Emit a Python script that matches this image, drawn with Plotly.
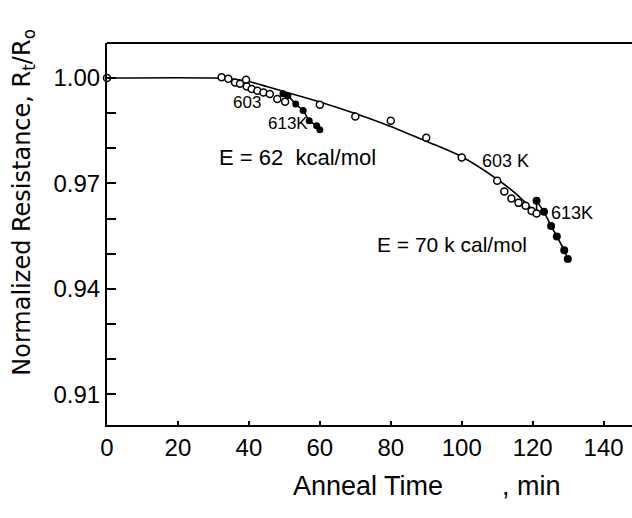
import plotly.graph_objects as go

# ---- data ----
curve_x = [0, 30, 35, 40, 45, 50, 55, 60, 70, 80, 90, 100, 110, 115, 121.1]
curve_y = [1.000, 1.000, 0.9997, 0.9990, 0.9976, 0.9961, 0.9947, 0.9932,
           0.9899, 0.9862, 0.9820, 0.9776, 0.9712, 0.9673, 0.9614]

open_x = [0, 32.3, 34.2, 36.1, 37.5, 39.2, 39.4, 40.8, 42.4, 44.1, 45.9, 48.0, 50.2,
          60, 70, 80, 90, 100, 110, 112, 114, 116, 118, 119.7, 121.1]
open_y = [1.000, 1.0002, 0.9998, 0.99875, 0.99838, 0.99952, 0.99761, 0.99687, 0.99638,
          0.9959, 0.99544, 0.99402, 0.99325, 0.99239, 0.98906, 0.98783, 0.98300,
          0.97738, 0.97074, 0.96769, 0.96570, 0.96447, 0.96362, 0.96219, 0.96142]

fill1_x = [49.6, 51.0, 53.2, 55.3, 57.0, 59.1, 60.0]
fill1_y = [0.99553, 0.99496, 0.99259, 0.99077, 0.98783, 0.98641, 0.98527]

fill2_x = [121.1, 123.2, 125.2, 126.8, 128.9, 129.9]
fill2_y = [0.96504, 0.96191, 0.95792, 0.95487, 0.95100, 0.94852]

x_ticks = [0, 20, 40, 60, 80, 100, 120, 140]
y_ticks = [0.91, 0.94, 0.97, 1.00]
y_ticktext = ["0.91", "0.94", "0.97", "1.00"]
y_minor = [0.91, 0.92, 0.93, 0.94, 0.95, 0.96, 0.97, 0.98, 0.99, 1.00]

labels = [
    ("603", 39.5, 0.99296, 17),
    ("613K", 51.0, 0.9870, 17),
    ("E = 62  kcal/mol", 53.6, 0.97729, 22),
    ("603 K", 112.2, 0.97644, 18),
    ("613K", 131.1, 0.96162, 18),
    ("E = 70 k cal/mol", 97.3, 0.95251, 21),
]

FONT = "Liberation Sans"

fig = go.Figure()
fig.add_trace(go.Scatter(x=curve_x, y=curve_y, mode="lines", line=dict(color="black", width=1.6, shape="spline", smoothing=0.8)))
fig.add_trace(go.Scatter(x=fill1_x, y=fill1_y, mode="lines+markers", line=dict(color="black", width=1.6),
                         marker=dict(symbol="circle", size=7, color="black")))
fig.add_trace(go.Scatter(x=[open_x[-1], fill2_x[0]], y=[open_y[-1], fill2_y[0]], mode="lines",
                         line=dict(color="black", width=1.6)))
fig.add_trace(go.Scatter(x=fill2_x, y=fill2_y, mode="lines+markers", line=dict(color="black", width=1.6),
                         marker=dict(symbol="circle", size=8, color="black")))
fig.add_trace(go.Scatter(x=open_x, y=open_y, mode="markers", cliponaxis=False,
                         marker=dict(symbol="circle", size=7, color="white", line=dict(color="black", width=1.5))))

for text, x, y, s in labels:
    fig.add_annotation(text=text, x=x, y=y, xref="x", yref="y", showarrow=False,
                       font=dict(family=FONT, size=s, color="black"))

fig.add_annotation(text="Normalized Resistance, R<sub>t</sub>/R<sub>o</sub>", textangle=-90,
                   xref="paper", yref="paper", x=-0.158, y=0.582, xanchor="center", yanchor="middle",
                   showarrow=False, font=dict(family="DejaVu Sans", size=24, color="black"))
fig.add_annotation(text="Anneal Time", xref="paper", yref="paper", x=0.497, y=-0.16,
                   xanchor="center", yanchor="middle", showarrow=False,
                   font=dict(family=FONT, size=27, color="black"))
fig.add_annotation(text=", min", xref="paper", yref="paper", x=0.808, y=-0.16,
                   xanchor="center", yanchor="middle", showarrow=False,
                   font=dict(family=FONT, size=27, color="black"))

fig.add_shape(type="line", xref="paper", yref="paper", x0=0, x1=1, y0=1, y1=1,
              line=dict(color="black", width=2))

fig.update_layout(
    width=632, height=518,
    margin=dict(l=107, r=0, t=43, b=93),
    paper_bgcolor="white", plot_bgcolor="white",
    showlegend=False,
    font=dict(family=FONT, color="black"),
    xaxis=dict(range=[0, 148], showgrid=False, zeroline=False, showline=True, linecolor="black", linewidth=2,
               ticks="inside", ticklen=4, tickwidth=1.5, tickcolor="black", tickvals=x_ticks,
               tickfont=dict(family=FONT, size=24, color="black")),
    yaxis=dict(range=[0.90125, 1.00997], showgrid=False, zeroline=False, showline=True, linecolor="black", linewidth=2,
               ticks="inside", ticklen=9, tickwidth=1.5, tickcolor="black", tickvals=y_ticks, ticktext=y_ticktext,
               tickfont=dict(family=FONT, size=24, color="black"),
               minor=dict(ticks="inside", ticklen=9, tickwidth=1.5, tickcolor="black", tickvals=y_minor)),
)

fig.write_html("out.html")
